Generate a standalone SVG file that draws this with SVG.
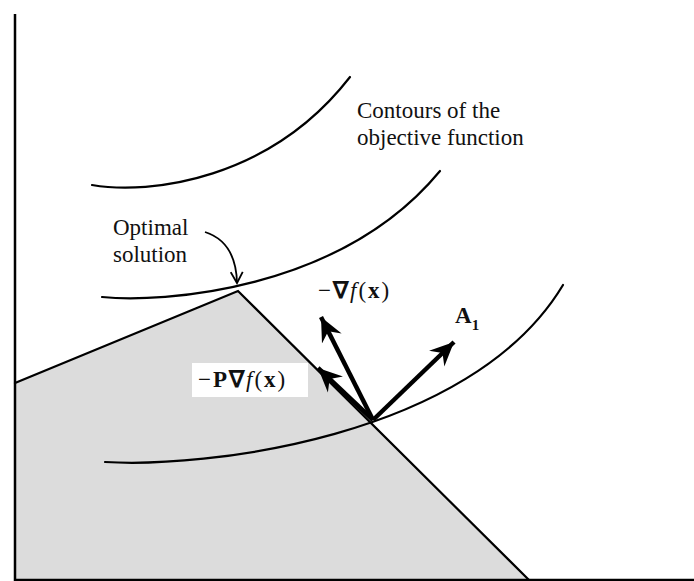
<svg xmlns="http://www.w3.org/2000/svg" width="694" height="581" viewBox="0 0 694 581">
  <style>
    .ln { fill: none; stroke: #000; stroke-width: 2.2; stroke-linecap: round; }
    .ax { fill: none; stroke: #000; stroke-width: 2.5; }
    .arr { fill: none; stroke: #000; stroke-width: 4.5; marker-end: url(#head); }
    .t { font-family: "Liberation Serif", "Times New Roman", serif; font-size: 23px; fill: #111; }
    .m { letter-spacing: 2px; }
    .b { font-weight: bold; }
    .i { font-style: italic; }
  </style>
  <defs>
    <marker id="head" markerUnits="userSpaceOnUse" viewBox="-24 -12 26 24" markerWidth="26" markerHeight="24" refX="0" refY="0" orient="auto">
      <path d="M0,0 L-24,-11 L-16,0 L-24,11 Z" fill="#000"/>
    </marker>
    <marker id="thin" markerUnits="userSpaceOnUse" viewBox="-12 -7 14 14" markerWidth="14" markerHeight="14" refX="0" refY="0" orient="auto">
      <path d="M-11,-6 L0,0 L-11,6" fill="none" stroke="#000" stroke-width="1.8"/>
    </marker>
  </defs>

  <rect x="0" y="0" width="694" height="581" fill="#fff"/>

  <g id="feasible-region">
    <polygon points="15,383 238,291 530,581 15,581" fill="#dcdcdc"/>
    <path class="ln" d="M15,383 L238,291 L530,581"/>
  </g>

  <g id="axes">
    <path class="ax" d="M15,14 L15,580 L694,580"/>
  </g>

  <g id="contours">
    <path class="ln" d="M92,185 C150,195 270,180 350,77"/>
    <path class="ln" d="M102,297 C160,303 340,292 440,171"/>
    <path class="ln" d="M105,462 C200,468 470,440 563,285"/>
  </g>

  <g id="label-contours">
    <text class="t" x="357" y="118">Contours of the</text>
    <text class="t" x="357" y="145">objective function</text>
  </g>

  <g id="label-optimal">
    <text class="t" x="113" y="235">Optimal</text>
    <text class="t" x="113" y="262">solution</text>
  </g>

  <g id="connectors">
    <path d="M205,232 Q236,242 237,283" fill="none" stroke="#000" stroke-width="1.8" marker-end="url(#thin)"/>
    <path class="arr" d="M373,420 L321,317"/>
    <path class="arr" d="M373,420 L318,368"/>
    <path class="arr" d="M373,420 L454,342"/>
  </g>

  <g id="label-grad">
    <text class="t m" x="318" y="298">−<tspan class="b">∇</tspan><tspan class="i">f</tspan>(<tspan class="b">x</tspan>)</text>
  </g>

  <g id="label-proj">
    <rect x="192" y="363" width="116" height="34" fill="#fff"/>
    <text class="t m" x="198" y="387">−<tspan class="b">P∇</tspan><tspan class="i">f</tspan>(<tspan class="b">x</tspan>)</text>
  </g>

  <g id="label-A1">
    <text class="t b" x="455" y="323">A<tspan font-size="15" dy="7">1</tspan></text>
  </g>
</svg>
